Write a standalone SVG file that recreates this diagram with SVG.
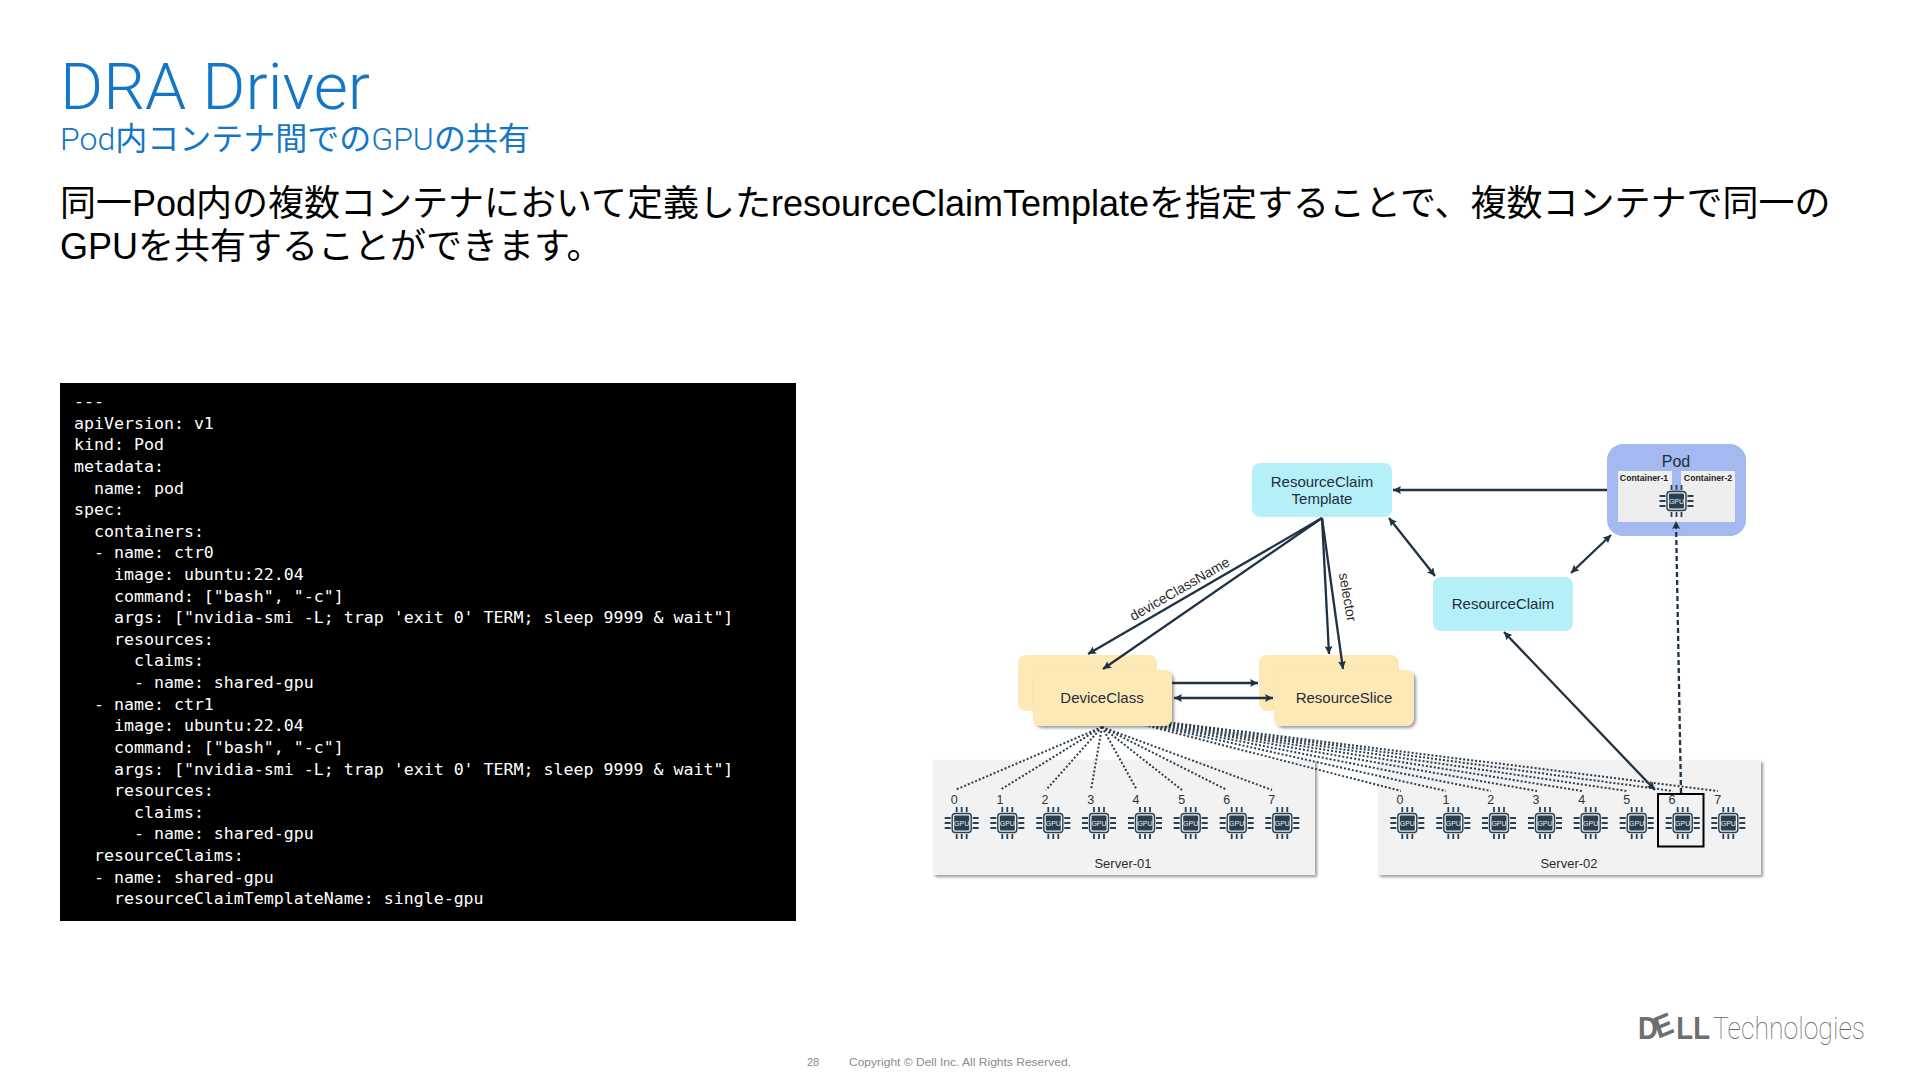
<svg xmlns="http://www.w3.org/2000/svg" width="1920" height="1080" viewBox="0 0 1920 1080">
<style>
text{font-family:"Liberation Sans","Noto Sans CJK JP",sans-serif}
.title{font-family:Roboto,"Liberation Sans",sans-serif;font-weight:300;font-size:64px;fill:#1476c6}
.sub{font-family:"Noto Sans CJK JP",sans-serif;font-weight:400;font-size:32px;fill:#1476c6}
.subl{font-family:Roboto,sans-serif;font-weight:300}
.body{font-size:36px;fill:#000}
.code{font-family:"DejaVu Sans Mono",monospace;font-size:16.6px;fill:#fff}
.n{font-size:15px;fill:#1f2d3a;text-anchor:middle}
.lab{font-size:13px;fill:#2b2b2b;text-anchor:middle}
.num{font-size:12.5px;fill:#333;text-anchor:middle}
.ct{font-size:8.7px;font-weight:700;fill:#222;text-anchor:middle}
.g{font-size:7px;fill:#e8eef2;text-anchor:middle}
.foot{font-size:11px;fill:#8a8a8a}
.blue{fill:#b5f0f8}
.yel{fill:#fde9b6}
.arr{fill:none;stroke:#1f3244;stroke-width:2.3}
.dot{fill:none;stroke:#2d3d4c;stroke-width:2;stroke-dasharray:2 2}
.srv{fill:#f2f2f2;filter:url(#sh)}
</style>
<defs>
<filter id="sh" x="-10%" y="-10%" width="125%" height="125%"><feDropShadow dx="2" dy="2" stdDeviation="1.5" flood-color="#000" flood-opacity=".4"/></filter>
<marker id="ah" markerUnits="userSpaceOnUse" markerWidth="10" markerHeight="10" refX="8" refY="4" orient="auto-start-reverse"><path d="M0,0L8,4L0,8L1.5,4Z" fill="#1f3244"/></marker>
<g id="gpu">
<rect x="-9.5" y="-9.5" width="19" height="19" rx="3" fill="none" stroke="#2a3f50" stroke-width="1.4"/>
<rect x="-7.5" y="-7.5" width="15" height="15" rx="1" fill="#2a3f50"/>
<path d="M-5,-11V-16M0,-11V-16M5,-11V-16M-5,11V16M0,11V16M5,11V16M-11,-5H-17M-11,0H-17M-11,5H-17M11,-5H17M11,0H17M11,5H17" stroke="#2a3f50" stroke-width="1.8" fill="none"/>
</g>
</defs>
<rect width="1920" height="1080" fill="#fff"/>
<text class="title" x="60" y="109" textLength="310" lengthAdjust="spacingAndGlyphs">DRA Driver</text>
<text class="sub" x="60" y="150"><tspan class="subl">Pod</tspan>内コンテナ間での<tspan class="subl">GPU</tspan>の共有</text>
<text class="body" x="60" y="216">同一Pod内の複数コンテナにおいて定義したresourceClaimTemplateを指定することで、複数コンテナで同一の</text>
<text class="body" x="60" y="259">GPUを共有することができます。</text>
<g id="code">
<rect x="60" y="383" width="736" height="538" fill="#000"/>
<text class="code" x="74" y="407">---</text>
<text class="code" x="74" y="428.6">apiVersion: v1</text>
<text class="code" x="74" y="450.2">kind: Pod</text>
<text class="code" x="74" y="471.9">metadata:</text>
<text class="code" x="74" y="493.5" xml:space="preserve">  name: pod</text>
<text class="code" x="74" y="515.1">spec:</text>
<text class="code" x="74" y="536.7" xml:space="preserve">  containers:</text>
<text class="code" x="74" y="558.3" xml:space="preserve">  - name: ctr0</text>
<text class="code" x="74" y="580" xml:space="preserve">    image: ubuntu:22.04</text>
<text class="code" x="74" y="601.6" xml:space="preserve">    command: ["bash", "-c"]</text>
<text class="code" x="74" y="623.2" xml:space="preserve">    args: ["nvidia-smi -L; trap 'exit 0' TERM; sleep 9999 &amp; wait"]</text>
<text class="code" x="74" y="644.8" xml:space="preserve">    resources:</text>
<text class="code" x="74" y="666.4" xml:space="preserve">      claims:</text>
<text class="code" x="74" y="688.1" xml:space="preserve">      - name: shared-gpu</text>
<text class="code" x="74" y="709.7" xml:space="preserve">  - name: ctr1</text>
<text class="code" x="74" y="731.3" xml:space="preserve">    image: ubuntu:22.04</text>
<text class="code" x="74" y="752.9" xml:space="preserve">    command: ["bash", "-c"]</text>
<text class="code" x="74" y="774.5" xml:space="preserve">    args: ["nvidia-smi -L; trap 'exit 0' TERM; sleep 9999 &amp; wait"]</text>
<text class="code" x="74" y="796.2" xml:space="preserve">    resources:</text>
<text class="code" x="74" y="817.8" xml:space="preserve">      claims:</text>
<text class="code" x="74" y="839.4" xml:space="preserve">      - name: shared-gpu</text>
<text class="code" x="74" y="861" xml:space="preserve">  resourceClaims:</text>
<text class="code" x="74" y="882.6" xml:space="preserve">  - name: shared-gpu</text>
<text class="code" x="74" y="904.3" xml:space="preserve">    resourceClaimTemplateName: single-gpu</text>
</g>
<g id="server-01"><rect class="srv" x="933" y="760" width="382" height="115"/><text class="lab" x="1123" y="868">Server-01</text></g>
<g id="server-02"><rect class="srv" x="1378" y="760" width="383" height="115"/><text class="lab" x="1569" y="868">Server-02</text></g>
<g id="connectors-dotted">
<path class="dot" d="M1102,714L1401,791M1102,714L1446,791M1102,714L1491,791M1102,714L1537,791M1102,714L1582,791M1102,714L1627,791M1102,714L1673,791M1102,714L1718,791"/>
<path class="dot" d="M1102,727L955,790M1102,727L1000,790M1102,727L1046,790M1102,727L1091,790M1102,727L1137,790M1102,727L1182,790M1102,727L1227,790M1102,727L1272,790"/>
</g>
<g id="resourceclaim-template"><rect class="blue" x="1252" y="463" width="140" height="54" rx="8"/><text class="n" x="1322" y="487">ResourceClaim</text><text class="n" x="1322" y="504">Template</text></g>
<g id="deviceclass"><rect class="yel" x="1018" y="655" width="139" height="56" rx="8"/><rect class="yel" x="1033" y="670" width="139" height="56" rx="8" filter="url(#sh)"/><text class="n" x="1102" y="703">DeviceClass</text></g>
<g id="resourceslice"><rect class="yel" x="1259" y="655" width="140" height="56" rx="8"/><rect class="yel" x="1274" y="670" width="140" height="56" rx="8" filter="url(#sh)"/><text class="n" x="1344" y="703">ResourceSlice</text></g>
<g id="resourceclaim"><rect class="blue" x="1433" y="577" width="140" height="54" rx="8"/><text class="n" x="1503" y="609">ResourceClaim</text></g>
<g id="pod">
<rect x="1607" y="444" width="139" height="92" rx="16" fill="#a3b9f0"/>
<path d="M1618,471H1672V492H1681V471H1735V522H1618Z" fill="#eeeeee"/>
<text class="n" x="1676" y="467" style="font-size:16px">Pod</text>
<text class="ct" x="1644" y="481">Container-1</text>
<text class="ct" x="1708" y="481">Container-2</text>
<use href="#gpu" x="1676.5" y="501"/><text class="g" x="1676.5" y="503.5">GPU</text>
</g>
<g id="gpus-1">
<g id="s1-0"><use href="#gpu" x="961.7" y="823"/><text class="g" x="961.7" y="825.5">GPU</text><text class="num" x="954.3" y="804">0</text></g>
<g id="s1-1"><use href="#gpu" x="1007.3" y="823"/><text class="g" x="1007.3" y="825.5">GPU</text><text class="num" x="1000" y="804">1</text></g>
<g id="s1-2"><use href="#gpu" x="1053.3" y="823"/><text class="g" x="1053.3" y="825.5">GPU</text><text class="num" x="1045" y="804">2</text></g>
<g id="s1-3"><use href="#gpu" x="1099" y="823"/><text class="g" x="1099" y="825.5">GPU</text><text class="num" x="1090.7" y="804">3</text></g>
<g id="s1-4"><use href="#gpu" x="1145" y="823"/><text class="g" x="1145" y="825.5">GPU</text><text class="num" x="1136" y="804">4</text></g>
<g id="s1-5"><use href="#gpu" x="1190.7" y="823"/><text class="g" x="1190.7" y="825.5">GPU</text><text class="num" x="1181.7" y="804">5</text></g>
<g id="s1-6"><use href="#gpu" x="1236.7" y="823"/><text class="g" x="1236.7" y="825.5">GPU</text><text class="num" x="1226.7" y="804">6</text></g>
<g id="s1-7"><use href="#gpu" x="1282.3" y="823"/><text class="g" x="1282.3" y="825.5">GPU</text><text class="num" x="1271.7" y="804">7</text></g>
</g>
<g id="gpus-2">
<g id="s2-0"><use href="#gpu" x="1407.3" y="823"/><text class="g" x="1407.3" y="825.5">GPU</text><text class="num" x="1400" y="804">0</text></g>
<g id="s2-1"><use href="#gpu" x="1453.3" y="823"/><text class="g" x="1453.3" y="825.5">GPU</text><text class="num" x="1446" y="804">1</text></g>
<g id="s2-2"><use href="#gpu" x="1499" y="823"/><text class="g" x="1499" y="825.5">GPU</text><text class="num" x="1490.7" y="804">2</text></g>
<g id="s2-3"><use href="#gpu" x="1545" y="823"/><text class="g" x="1545" y="825.5">GPU</text><text class="num" x="1536" y="804">3</text></g>
<g id="s2-4"><use href="#gpu" x="1590.7" y="823"/><text class="g" x="1590.7" y="825.5">GPU</text><text class="num" x="1581.7" y="804">4</text></g>
<g id="s2-5"><use href="#gpu" x="1636.7" y="823"/><text class="g" x="1636.7" y="825.5">GPU</text><text class="num" x="1626.7" y="804">5</text></g>
<g id="s2-6"><use href="#gpu" x="1682.7" y="823"/><text class="g" x="1682.7" y="825.5">GPU</text><text class="num" x="1672" y="804">6</text><rect x="1658" y="794" width="45.5" height="52.5" fill="none" stroke="#000" stroke-width="2"/></g>
<g id="s2-7"><use href="#gpu" x="1728.3" y="823"/><text class="g" x="1728.3" y="825.5">GPU</text><text class="num" x="1717.7" y="804">7</text></g>
</g>
<g id="connectors">
<path class="arr" marker-end="url(#ah)" d="M1322,518L1088,654"/>
<path class="arr" marker-end="url(#ah)" d="M1322,518L1103,669"/>
<path class="arr" marker-end="url(#ah)" d="M1322,518L1329,654"/>
<path class="arr" marker-end="url(#ah)" d="M1322,518L1343,669"/>
<path class="arr" marker-end="url(#ah)" d="M1172,683H1258"/>
<path class="arr" marker-start="url(#ah)" marker-end="url(#ah)" d="M1174,698H1273"/>
<path class="arr" marker-end="url(#ah)" d="M1607,490H1393"/>
<path class="arr" marker-start="url(#ah)" marker-end="url(#ah)" d="M1389,518L1435,576"/>
<path class="arr" marker-start="url(#ah)" marker-end="url(#ah)" d="M1571,573L1611,535"/>
<path class="arr" marker-start="url(#ah)" marker-end="url(#ah)" d="M1504,632L1655,790"/>
<path class="arr" marker-end="url(#ah)" stroke-dasharray="5 3" d="M1681,793L1676,521"/>
<text class="lab" style="font-size:14px" transform="translate(1182,593) rotate(-30)">deviceClassName</text>
<text class="lab" style="font-size:14px" transform="translate(1343,598) rotate(80)">selector</text>
</g>
<g id="logo">
<text x="1638" y="1039" style="font-size:31px;font-weight:700;fill:#6e6e6e" textLength="72" lengthAdjust="spacingAndGlyphs">D<tspan rotate="-20">E</tspan>LL</text>
<text x="1713" y="1039" style="font-family:Roboto,sans-serif;font-weight:100;font-size:32px;fill:#666" textLength="152" lengthAdjust="spacingAndGlyphs">Technologies</text>
</g>
<g id="footer">
<text class="foot" x="807" y="1066">28</text>
<text class="foot" x="849" y="1066" textLength="222" lengthAdjust="spacingAndGlyphs">Copyright © Dell Inc. All Rights Reserved.</text>
</g>
</svg>
